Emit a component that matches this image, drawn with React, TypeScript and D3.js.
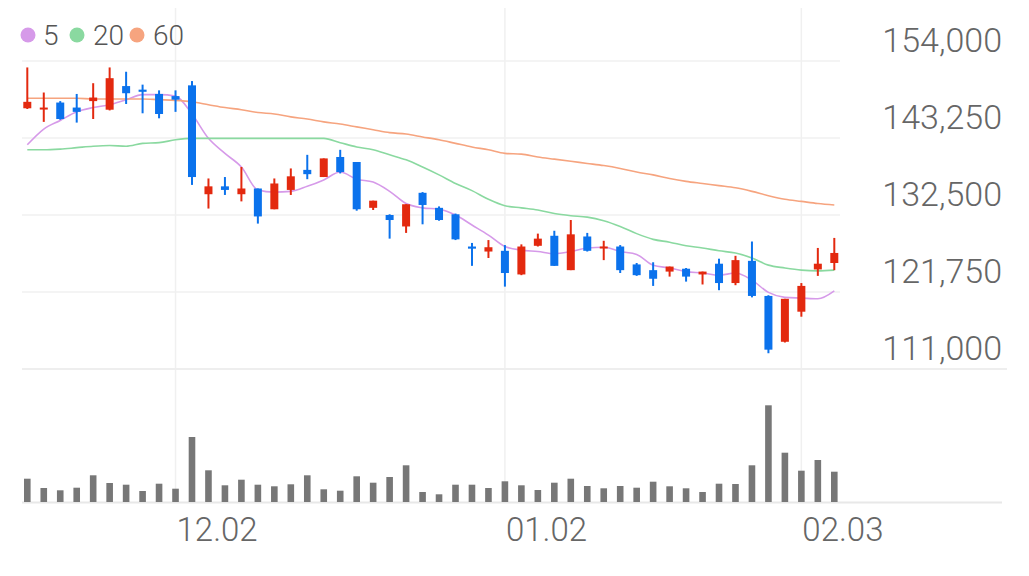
import React from "react";
import * as d3 from "d3";

const dates = [
  "11.19","11.20","11.21","11.22","11.25","11.26","11.27","11.28","11.29","12.02",
  "12.03","12.04","12.05","12.06","12.09","12.10","12.11","12.12","12.13","12.16",
  "12.17","12.18","12.19","12.20","12.23","12.24","12.26","12.27","12.30","01.02",
  "01.03","01.06","01.07","01.08","01.09","01.10","01.13","01.14","01.15","01.16",
  "01.17","01.20","01.21","01.22","01.23","01.24","01.31","02.03","02.04","02.05",
];

const opens = [
  147400,147300,148200,147500,148400,147200,150500,150000,149400,149100,
  150600,135400,136500,135400,136200,133300,136000,138800,137800,140600,
  139900,133500,132500,130900,135600,133500,132600,128100,127400,127500,
  124200,128200,129600,124800,129500,127900,128100,125600,124800,124600,
  125000,124200,125700,123000,126100,121200,114800,119000,124900,125800,
];
const highs = [
  153100,149600,148400,149400,150900,153100,152500,150700,149900,149900,
  151200,137600,137800,139200,136200,137600,139000,140900,140400,141600,
  139900,134500,132600,134000,135700,133700,132700,128600,129000,128300,
  128400,129900,130300,131800,130000,128900,128300,125800,125900,125300,
  125100,124600,126400,126800,128800,121300,120800,123000,127900,129300,
];
const lows = [
  147300,145500,145800,145400,145900,147100,148000,146700,146000,146900,
  136700,133400,135300,134400,131300,133300,135300,137500,137800,138300,
  133100,133200,129200,130000,131200,131700,129000,125400,126500,122500,
  124100,128100,125400,124800,127400,126200,124400,124000,122600,123900,
  123200,122800,122000,122700,121000,113200,114700,118300,124000,124800,
];
const closes = [
  148300,147500,145900,146900,148900,151600,149500,149700,146600,148600,
  137800,136500,136000,136200,132300,136900,137900,138200,140400,138500,
  133300,134500,131800,134000,133900,131800,129100,127800,128000,124400,
  128100,129200,125400,129800,127500,128100,124800,124100,123600,125300,
  123900,124600,123000,126200,121200,113700,120800,122600,125700,127200,
];

const ma5 = [
  142300,144500,145700,146900,147500,147900,148600,149300,149300,149100,
  146600,143200,141100,139200,136000,135700,135800,136500,137400,138500,
  137500,137100,135800,134100,133500,133300,132500,131100,129700,128100,
  127600,127400,127100,127400,127900,128000,127400,127000,125500,125100,
  124600,124400,124100,124400,123400,121700,121000,120900,120800,121900,
];
const ma20 = [
  141600,141600,141700,141900,142100,142200,142100,142500,142600,143000,
  143200,143200,143200,143200,143200,143200,143200,143200,143200,142600,
  142000,141600,140900,140200,139200,138100,136900,135900,134700,133800,
  133500,133200,132700,132400,132200,131700,130900,129900,129100,128700,
  128200,127900,127500,127200,126500,125500,125100,124800,124700,124800,
];
const ma60 = [
  148800,148800,148800,148800,148700,148700,148700,148700,148600,148500,
  148300,147900,147500,147200,146800,146600,146200,145900,145500,145200,
  144800,144400,144000,143800,143400,143000,142500,142000,141600,141100,
  141000,140600,140300,140000,139700,139400,139000,138500,138100,137600,
  137200,136900,136600,136300,135800,135200,134700,134400,134100,133900,
];

const volumes = [
  233000,140000,117000,143000,267000,190000,173000,110000,183000,133000,
  650000,317000,167000,223000,173000,157000,177000,267000,127000,113000,
  257000,193000,250000,367000,100000,77000,173000,173000,140000,207000,
  167000,120000,193000,233000,160000,137000,160000,143000,203000,157000,
  137000,100000,183000,180000,367000,967000,493000,313000,420000,303000,
];

const priceTicks = [111000, 121750, 132500, 143250, 154000];
const dateTicks = ["12.02", "01.02", "02.03"];

const legendItems = [
  { label: "5", color: "#d69ae9", values: ma5 },
  { label: "20", color: "#8ad9a0", values: ma20 },
  { label: "60", color: "#f6a47f", values: ma60 },
];

const UP = "#e3290f";
const DOWN = "#0b72ec";

export default function App() {
  const W = 1029, H = 576;
  const x = d3.scalePoint<string>().domain(dates).range([27.3, 834.3]);
  const y = d3.scaleLinear().domain([111000, 154000]).range([369, 61]);
  const yv = d3.scaleLinear().domain([0, 1000000]).range([502, 402]);
  const fmt = d3.format(",");

  const line = (vals: number[]) =>
    d3
      .line<number>()
      .x((_, i) => x(dates[i]) as number)
      .y((v) => y(v))
      .curve(d3.curveMonotoneX)(vals) || "";

  const bodyW = 8;
  const volW = 6.6;
  const font = "Roboto, sans-serif";

  return (
    <svg
      width={W}
      height={H}
      style={{ position: "absolute", left: 0, top: 0, display: "block", background: "#fff" }}
    >
      {/* vertical grid */}
      {dateTicks.map((d) => (
        <line key={"v" + d} x1={x(d)} x2={x(d)} y1={8} y2={502} stroke="#f0f0f0" strokeWidth={1.5} />
      ))}
      {/* horizontal grid */}
      {priceTicks.map((t) =>
        t === 111000 ? (
          <line key={"h" + t} x1={22} x2={1007} y1={y(t)} y2={y(t)} stroke="#eeeeee" strokeWidth={2} />
        ) : (
          <line key={"h" + t} x1={22} x2={840} y1={y(t)} y2={y(t)} stroke="#f0f0f0" strokeWidth={1.5} />
        )
      )}
      <line x1={22} x2={1002} y1={502.5} y2={502.5} stroke="#e8e8e8" strokeWidth={2} />

      {/* price labels */}
      {priceTicks.map((t) => (
        <text
          key={"pl" + t}
          x={1002}
          y={y(t) - 9}
          textAnchor="end"
          fontFamily={font}
          fontWeight={300}
          fontSize={34}
          fill="#666"
        >
          {fmt(t)}
        </text>
      ))}
      {/* date labels */}
      {dateTicks.map((d) => (
        <text
          key={"dl" + d}
          x={(x(d) as number) + 1}
          y={541}
          fontFamily={font}
          fontWeight={300}
          fontSize={33}
          fill="#666"
        >
          {d}
        </text>
      ))}

      {/* MA lines */}
      {legendItems.map((it) => (
        <path key={"ma" + it.label} d={line(it.values)} fill="none" stroke={it.color} strokeWidth={1.6} />
      ))}

      {/* candles */}
      {dates.map((d, i) => {
        const cx = x(d) as number;
        const up = closes[i] >= opens[i];
        const c = up ? UP : DOWN;
        const top = y(Math.max(opens[i], closes[i]));
        const bot = y(Math.min(opens[i], closes[i]));
        const h = Math.max(bot - top, 2);
        return (
          <g key={"c" + i}>
            <line x1={cx} x2={cx} y1={y(highs[i])} y2={y(lows[i])} stroke={c} strokeWidth={2} />
            <rect x={cx - bodyW / 2} y={top} width={bodyW} height={h} fill={c} />
          </g>
        );
      })}

      {/* volume */}
      {dates.map((d, i) => (
        <rect
          key={"v" + i}
          x={(x(d) as number) - volW / 2}
          y={yv(volumes[i])}
          width={volW}
          height={502 - yv(volumes[i])}
          fill="#777777"
        />
      ))}

      {/* legend */}
      {legendItems.map((it, k) => {
        const cxs = [28, 77, 137];
        const tx = [43, 93, 153];
        return (
          <g key={"lg" + it.label}>
            <circle cx={cxs[k]} cy={35} r={7.5} fill={it.color} />
            <text x={tx[k]} y={45} fontFamily={font} fontWeight={300} fontSize={28} fill="#555">
              {it.label}
            </text>
          </g>
        );
      })}
    </svg>
  );
}
